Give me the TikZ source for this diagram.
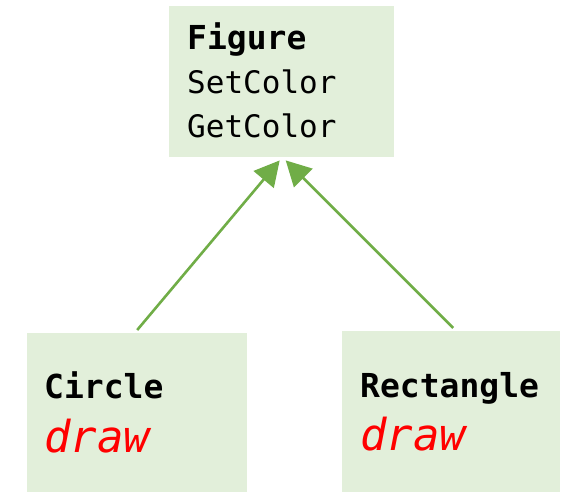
\documentclass[tikz,border=0pt]{standalone}
\usepackage{fontspec}
\setmonofont{DejaVu Sans Mono}
\usetikzlibrary{arrows.meta}
\definecolor{boxfill}{HTML}{E2EFDA}
\definecolor{arrowgreen}{HTML}{70AD47}
\definecolor{drawred}{HTML}{FF0000}
\begin{document}
\begin{tikzpicture}[x=1pt,y=1pt,
  box/.style={fill=boxfill,draw=none,inner sep=0pt,anchor=north west},
  lbl/.style={anchor=base west,inner sep=0pt,font=\ttfamily},
  inherit/.style={draw=arrowgreen,line width=2.6pt,-{Triangle[length=25pt,width=26pt]}}]
\useasboundingbox (0,0) rectangle (575,-492);
\node[box,minimum width=225pt,minimum height=151pt] (fig) at (169,-6) {};
\node[box,minimum width=220pt,minimum height=159pt] (circ) at (27,-333) {};
\node[box,minimum width=218pt,minimum height=161pt] (rect) at (342,-331) {};
\node[lbl,font=\ttfamily\bfseries\fontsize{33}{38}\selectfont] (figname) at (187,-50) {Figure};
\node[lbl,font=\ttfamily\fontsize{31}{36}\selectfont] (setc) at (187,-94) {SetColor};
\node[lbl,font=\ttfamily\fontsize{31}{36}\selectfont] (getc) at (187,-137) {GetColor};
\node[lbl,font=\ttfamily\bfseries\fontsize{33}{38}\selectfont] (circname) at (44,-398) {Circle};
\node[lbl,font=\ttfamily\itshape\fontsize{44}{50}\selectfont,text=drawred] (circdraw) at (44,-452) {draw};
\node[lbl,font=\ttfamily\bfseries\fontsize{33}{38}\selectfont] (rectname) at (360,-397) {Rectangle};
\node[lbl,font=\ttfamily\itshape\fontsize{44}{50}\selectfont,text=drawred] (rectdraw) at (360,-450) {draw};
\coordinate (cstart) at ([yshift=3pt]circ.north);
\coordinate (rstart) at ([xshift=2pt,yshift=3pt]rect.north);
\coordinate (ltip) at ([xshift=-2pt,yshift=-3pt]fig.south);
\coordinate (rtip) at ([xshift=4pt,yshift=-3pt]fig.south);
\draw[inherit] (cstart) -- (ltip);
\draw[inherit] (rstart) -- (rtip);
\end{tikzpicture}
\end{document}
